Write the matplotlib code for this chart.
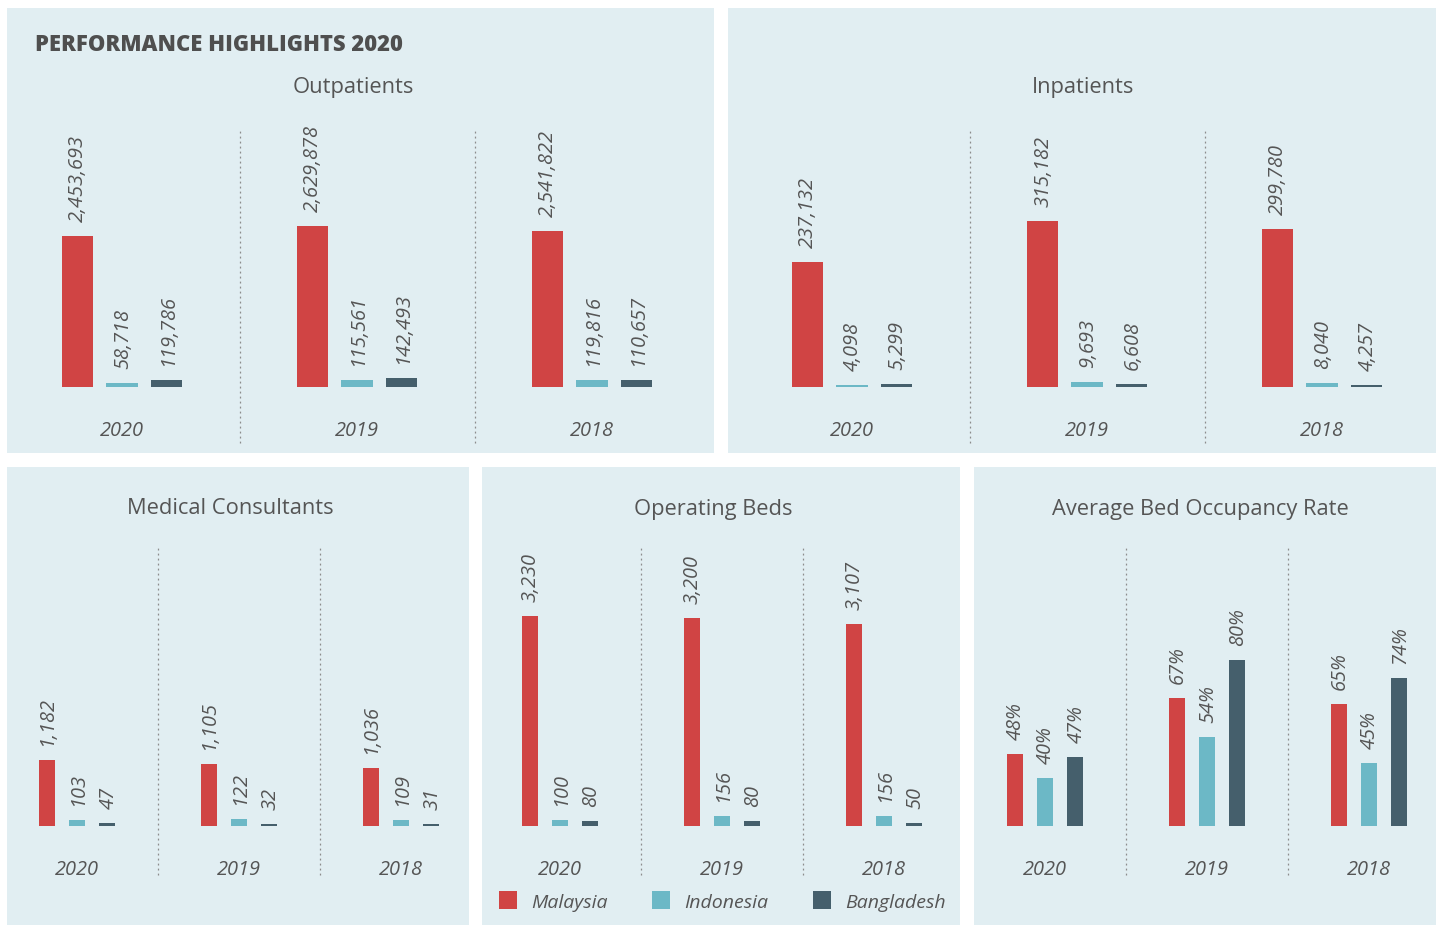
import numpy as np
import matplotlib
matplotlib.use("Agg")
import matplotlib.pyplot as plt
from matplotlib.patches import Rectangle

plt.rcParams["font.family"] = ["Open Sans", "DejaVu Sans"]

W, H = 1439, 926

years = ["2020", "2019", "2018"]
countries = ["Malaysia", "Indonesia", "Bangladesh"]
colors = ["#d04444", "#6cb8c6", "#455f6c"]

# values per year, order: Malaysia, Indonesia, Bangladesh
outpatients = [[2453693, 58718, 119786], [2629878, 115561, 142493], [2541822, 119816, 110657]]
inpatients = [[237132, 4098, 5299], [315182, 9693, 6608], [299780, 8040, 4257]]
consultants = [[1182, 103, 47], [1105, 122, 32], [1036, 109, 31]]
beds = [[3230, 100, 80], [3200, 156, 80], [3107, 156, 50]]
occupancy = [[48, 40, 47], [67, 54, 80], [65, 45, 74]]

BG = "#e1eef2"
TXT = "#555555"


def fx(px):
    return px / W


def fy(py):
    return 1 - py / H


fig = plt.figure(figsize=(W / 100, H / 100), dpi=100)
fig.patch.set_facecolor("white")

# panel backgrounds (left, top, right, bottom in pixels), kept under the axes
panels = [(7, 8, 714, 453), (728, 8, 1436, 453),
          (7, 467, 469, 925), (482, 467, 960, 925), (974, 467, 1436, 925)]
for l, t, r, b in panels:
    fig.patches.append(Rectangle((fx(l), fy(b)), fx(r - l), (b - t) / H,
                                 transform=fig.transFigure, facecolor=BG,
                                 edgecolor="none", zorder=-5))

fig.text(fx(35), fy(45), "PERFORMANCE HIGHLIGHTS 2020", fontsize=15.8,
         fontweight="heavy", color="#4f4f4f", va="center", ha="left")


def draw_panel(title, data, c0, sp, top, base, sep_bottom, ylim, bw, off,
               pct=False, title_x=None, title_y=None):
    ax = fig.add_axes([fx(c0 - 0.5 * sp), fy(base), fx(3 * sp), (base - top) / H])
    ax.set_xlim(-0.5, 2.5)
    ax.set_ylim(*ylim)
    ax.axis("off")
    x = np.arange(len(years))
    for k in range(3):
        vals = [row[k] for row in data]
        bars = ax.bar(x + (k - 1) * off, vals, width=bw, color=colors[k], zorder=2)
        for rect, v in zip(bars, vals):
            label = f"{v}%" if pct else f"{v:,}"
            ax.annotate(label, (rect.get_x() + rect.get_width() / 2, rect.get_height()),
                        xytext=(1, 14), textcoords="offset pixels", rotation=90,
                        ha="center", va="bottom", fontsize=14.4, style="italic",
                        color=TXT, annotation_clip=False)
    for i, yr in enumerate(years):
        ax.annotate(yr, (i, 0), xycoords=("data", "axes fraction"),
                    xytext=(0, -44), textcoords="offset pixels", ha="center",
                    va="center", fontsize=14.4, style="italic", color=TXT,
                    annotation_clip=False)
    ymin = -(sep_bottom - base) / (base - top)
    for s in (0.5, 1.5):
        ax.axvline(s, ymin=ymin, ymax=1, color="#8c8c8c", lw=0.9,
                   ls=(0, (1.5, 2.5)), clip_on=False)
    fig.text(fx(title_x), fy(title_y), title, fontsize=15.75, color=TXT,
             ha="center", va="center")
    return ax


# top row
draw_panel("Outpatients", outpatients, 122, 235, 130, 387, 443, (0, 4.19e6),
           0.132, 0.19, title_x=353, title_y=88)
draw_panel("Inpatients", inpatients, 852, 235, 130, 387, 443, (0, 4.88e5),
           0.132, 0.19, title_x=1083, title_y=88)

# bottom row
draw_panel("Medical Consultants", consultants, 77, 162, 547, 826, 875, (0, 4994),
           0.099, 0.188, title_x=230, title_y=509)
draw_panel("Operating Beds", beds, 560, 162, 547, 826, 875, (0, 4297),
           0.099, 0.188, title_x=713, title_y=509)
draw_panel("Average Bed Occupancy Rate", occupancy, 1045, 162, 547, 826, 875,
           (23.7, 118.3), 0.099, 0.188, pct=True, title_x=1200, title_y=509)

# legend
leg_x = [499, 652, 813]
for px, name, col in zip(leg_x, countries, colors):
    fig.patches.append(Rectangle((fx(px), fy(909)), fx(18), 18 / H,
                                 transform=fig.transFigure, facecolor=col,
                                 edgecolor="none"))
    fig.text(fx(px + 32), fy(903), name, fontsize=14, style="italic",
             color=TXT, ha="left", va="center")

fig.savefig("out.png", dpi=100, facecolor="white")
